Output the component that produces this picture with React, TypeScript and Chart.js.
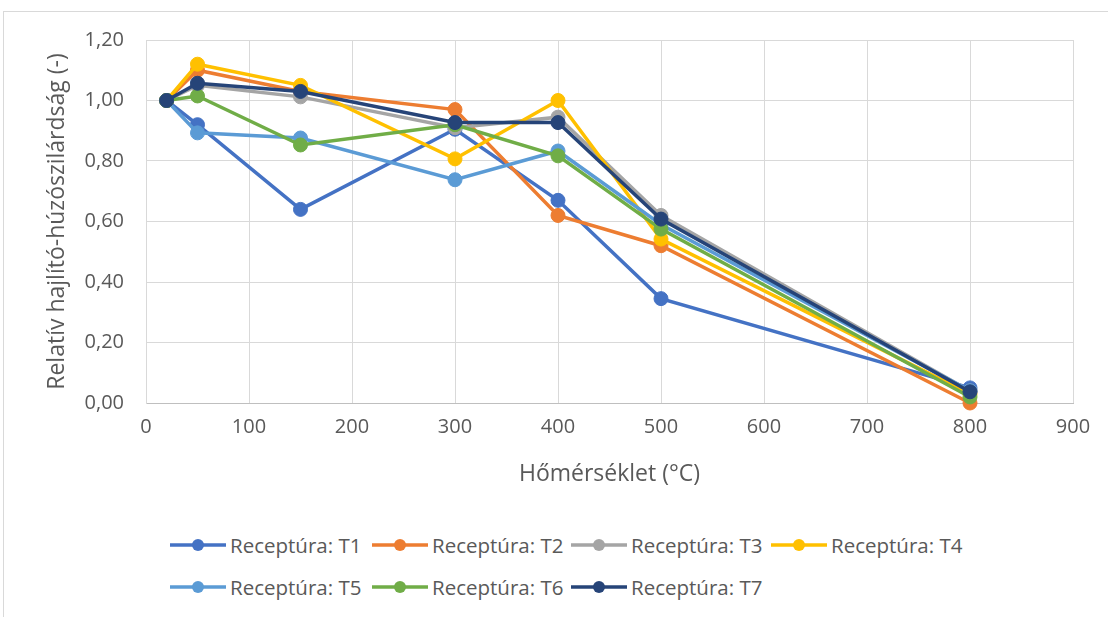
import React, { useEffect, useRef } from "react";
import { Chart, registerables } from "chart.js";

Chart.register(...registerables);

const temperatures = [20, 50, 150, 300, 400, 500, 800];
const seriesNames = [
  "Receptúra: T1",
  "Receptúra: T2",
  "Receptúra: T3",
  "Receptúra: T4",
  "Receptúra: T5",
  "Receptúra: T6",
  "Receptúra: T7",
];
const t1 = [1.0, 0.92, 0.64, 0.905, 0.67, 0.345, 0.05];
const t2 = [1.0, 1.1, 1.03, 0.97, 0.62, 0.52, 0.0];
const t3 = [1.0, 1.05, 1.012, 0.91, 0.945, 0.62, 0.04];
const t4 = [1.0, 1.12, 1.05, 0.807, 1.0, 0.542, 0.03];
const t5 = [1.0, 0.893, 0.876, 0.738, 0.833, 0.59, 0.04];
const t6 = [1.0, 1.015, 0.853, 0.92, 0.817, 0.575, 0.02];
const t7 = [1.0, 1.057, 1.03, 0.927, 0.927, 0.608, 0.037];
const seriesValues = [t1, t2, t3, t4, t5, t6, t7];
const colors = ["#4472C4", "#ED7D31", "#A5A5A5", "#FFC000", "#5B9BD5", "#70AD47", "#264478"];
const yTicks = [0, 0.2, 0.4, 0.6, 0.8, 1.0, 1.2];
const xTicks = [0, 100, 200, 300, 400, 500, 600, 700, 800, 900];
const xTitle = "Hőmérséklet (°C)";
const yTitle = "Relatív hajlító-húzószilárdság (-)";

const FONT = "'Open Sans', 'Liberation Sans', sans-serif";
const TEXT = "#595959";

export default function App() {
  const ref = useRef<HTMLCanvasElement | null>(null);

  useEffect(() => {
    if (!ref.current) return;
    const datasets = seriesValues.map((vals, i) => ({
      label: seriesNames[i],
      data: vals.map((v, j) => ({ x: temperatures[j], y: v })),
      borderColor: colors[i],
      backgroundColor: colors[i],
      pointBackgroundColor: colors[i],
      pointBorderColor: colors[i],
      borderWidth: 3.5,
      pointRadius: 7,
      pointBorderWidth: 1,
      pointHoverRadius: 7,
      tension: 0,
      fill: false,
      clip: false as any,
      order: seriesValues.length - 1 - i,
    }));
    const chart = new Chart(ref.current, {
      type: "line",
      data: { datasets },
      options: {
        animation: false,
        responsive: false,
        devicePixelRatio: 1,
        layout: { padding: { left: 0, top: 29, right: 35, bottom: 0 } },
        plugins: {
          legend: { display: false },
          tooltip: { enabled: false },
        },
        scales: {
          x: {
            type: "linear",
            min: 0,
            max: 900,
            afterBuildTicks: (s: any) => {
              s.ticks = xTicks.map((v) => ({ value: v }));
            },
            afterFit: (s: any) => {
              s.height = 100;
              s.paddingLeft = 0;
              s.paddingRight = 0;
            },
            ticks: {
              color: TEXT,
              font: { family: FONT, size: 20 },
              padding: 12,
              maxRotation: 0,
              callback: (v: any) => String(v),
            },
            grid: { color: "#d9d9d9", lineWidth: 1, drawTicks: false },
            border: { color: "#bfbfbf", width: 1 },
            title: {
              display: true,
              text: xTitle,
              color: TEXT,
              font: { family: FONT, size: 23 },
              padding: { top: 0, bottom: 15 },
            },
          },
          y: {
            type: "linear",
            min: 0,
            max: 1.2,
            afterBuildTicks: (s: any) => {
              s.ticks = yTicks.map((v) => ({ value: v }));
            },
            afterFit: (s: any) => {
              s.width = 143;
              s.paddingTop = 0;
              s.paddingBottom = 0;
            },
            ticks: {
              color: TEXT,
              font: { family: FONT, size: 20 },
              padding: 22,
              callback: (v: any) => Number(v).toFixed(2).replace(".", ","),
            },
            grid: { color: "#d9d9d9", lineWidth: 1, drawTicks: false },
            border: { color: "#d9d9d9", width: 1 },
            title: {
              display: true,
              text: yTitle,
              color: TEXT,
              font: { family: FONT, size: 23 },
              padding: { top: 41, bottom: 0 },
            },
          },
        },
      },
    });
    return () => chart.destroy();
  }, []);

  const legendX = [170, 372, 571, 771];
  const legendRows = [
    [0, 1, 2, 3],
    [4, 5, 6],
  ];
  const legendY = [545, 587];

  return (
    <div style={{ position: "absolute", left: 0, top: 0, width: 1108, height: 617, overflow: "hidden", background: "#fff" }}>
      <div
        style={{
          position: "absolute",
          left: 3,
          top: 11,
          width: 1110,
          height: 620,
          border: "1px solid #d9d9d9",
          boxSizing: "border-box",
        }}
      />
      <canvas
        ref={ref}
        width={1105}
        height={492}
        style={{ position: "absolute", left: 3, top: 11, width: 1105, height: 492 }}
      />
      {legendRows.map((row, r) =>
        row.map((idx, c) => (
          <div
            key={idx}
            style={{
              position: "absolute",
              left: legendX[c],
              top: legendY[r] - 15,
              height: 30,
              display: "flex",
              alignItems: "center",
              whiteSpace: "nowrap",
              fontFamily: FONT,
              fontSize: 20.5,
              color: TEXT,
            }}
          >
            <svg width={56} height={16} style={{ flex: "none" }}>
              <line x1={0} y1={8} x2={56} y2={8} stroke={colors[idx]} strokeWidth={3.5} />
              <circle cx={28} cy={8} r={6} fill={colors[idx]} />
            </svg>
            <span style={{ marginLeft: 4 }}>{seriesNames[idx]}</span>
          </div>
        ))
      )}
    </div>
  );
}
